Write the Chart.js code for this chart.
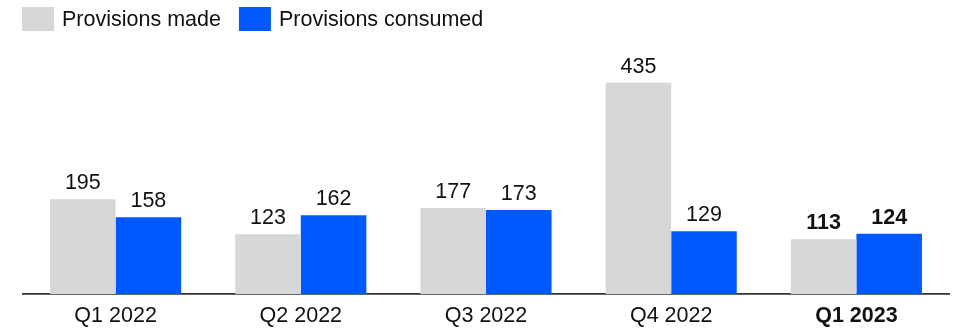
<!DOCTYPE html>
<html>
<head>
<meta charset="utf-8">
<script src="https://cdn.jsdelivr.net/npm/chart.js@4.4.0/dist/chart.umd.min.js"></script>
<style>
  html, body { margin: 0; padding: 0; background: #fff; }
  #wrap { width: 953px; height: 328px; }
</style>
</head>
<body>
<div id="wrap"><canvas id="provChart" width="953" height="328"></canvas></div>
<script>
var quarters = ["Q1 2022", "Q2 2022", "Q3 2022", "Q4 2022", "Q1 2023"];
var provisionsMade = [195, 123, 177, 435, 113];
var provisionsConsumed = [158, 162, 173, 129, 124];
var seriesNames = ["Provisions made", "Provisions consumed"];
var seriesColors = ["#d6d7d9", "#0059ff"];

var FONT = "Arial, 'Liberation Sans', sans-serif";
var FONT_SIZE = 21.5;
var lastIdx = quarters.length - 1;

// legend drawn by hand: square swatch then label, left aligned at the top
var topLegend = {
  id: "topLegend",
  afterDraw: function(chart) {
    var ctx = chart.ctx;
    var x = 22;
    ctx.save();
    ctx.font = FONT_SIZE + "px " + FONT;
    ctx.textBaseline = "middle";
    chart.data.datasets.forEach(function(ds) {
      ctx.fillStyle = ds.backgroundColor;
      ctx.fillRect(x, 7, 32, 24);
      ctx.fillStyle = "#111";
      ctx.fillText(ds.label, x + 40, 20);
      x += 40 + ctx.measureText(ds.label).width + 18;
    });
    ctx.restore();
  }
};

// numbers above each bar, bold for the latest quarter
var barValues = {
  id: "barValues",
  afterDatasetsDraw: function(chart) {
    var ctx = chart.ctx;
    ctx.save();
    ctx.fillStyle = "#111";
    ctx.textAlign = "center";
    ctx.textBaseline = "alphabetic";
    chart.data.datasets.forEach(function(ds, di) {
      var meta = chart.getDatasetMeta(di);
      meta.data.forEach(function(bar, i) {
        ctx.font = (i === lastIdx ? "bold " : "") + FONT_SIZE + "px " + FONT;
        ctx.fillText(ds.data[i], bar.x, bar.y - 10);
      });
    });
    ctx.restore();
  }
};

new Chart(document.getElementById("provChart"), {
  type: "bar",
  data: {
    labels: quarters,
    datasets: [
      { label: seriesNames[0], data: provisionsMade, backgroundColor: seriesColors[0] },
      { label: seriesNames[1], data: provisionsConsumed, backgroundColor: seriesColors[1] }
    ]
  },
  options: {
    responsive: false,
    animation: false,
    layout: { padding: { left: 23, right: 4, top: 42, bottom: 0 } },
    datasets: { bar: { categoryPercentage: 0.708, barPercentage: 1.0, borderWidth: 0 } },
    plugins: {
      legend: { display: false },
      tooltip: { enabled: false }
    },
    scales: {
      x: {
        grid: { display: false, drawTicks: false },
        border: { display: true, color: "#333", width: 1.8 },
        afterFit: function(s) { s.height = 34; },
        ticks: {
          color: "#111",
          padding: 9,
          font: function(c) {
            return { family: FONT, size: FONT_SIZE, weight: c.index === lastIdx ? "bold" : "normal" };
          }
        }
      },
      y: {
        display: false,
        min: 0,
        max: 519
      }
    }
  },
  plugins: [topLegend, barValues]
});
</script>
</body>
</html>
